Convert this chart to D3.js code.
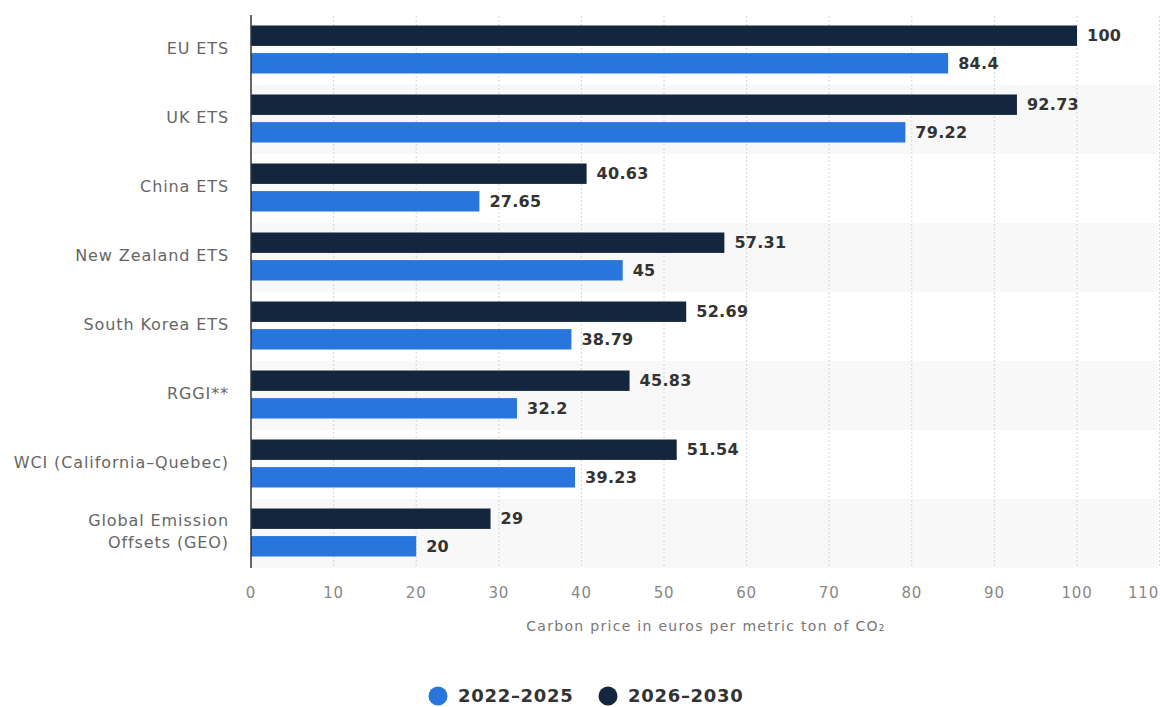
<!DOCTYPE html>
<html><head><meta charset="utf-8">
<script src="https://cdn.jsdelivr.net/npm/d3@7"></script>
<style>body{margin:0;background:#fff;}svg{display:block;font-family:"DejaVu Sans",sans-serif;}</style>
</head><body><svg id="c" width="1160" height="707"></svg>
<script>
const categories = ["EU ETS","UK ETS","China ETS","New Zealand ETS","South Korea ETS","RGGI**","WCI (California–Quebec)","Global Emission Offsets (GEO)"];
const series2026 = [100,92.73,40.63,57.31,52.69,45.83,51.54,29];
const series2022 = [84.4,79.22,27.65,45,38.79,32.2,39.23,20];
const seriesNames = ["2022–2025","2026–2030"];
const xTicks = [0,10,20,30,40,50,60,70,80,90,100,110];

(function(){
const colDark = "#13263d", colBlue = "#2876dd";
const svg = d3.select("#c");
const pLeft = 251, pRight = 1159.6, pTop = 16, pBottom = 568;
const x = d3.scaleLinear().domain([0,110]).range([pLeft,pRight]);
const y = d3.scaleBand().domain(categories).range([pTop,pBottom]);
const inner = d3.scaleBand().domain(["d","b"]).range([9.5, y.bandwidth()-11.5]).paddingInner(0.26);

svg.selectAll("rect.band").data(categories.filter((d,i)=>i%2===1)).join("rect")
  .attr("x",pLeft).attr("y",d=>y(d)).attr("width",1157-pLeft).attr("height",y.bandwidth()).attr("fill","#f8f8f8");

svg.selectAll("line.grid").data(xTicks.filter(d=>d>0)).join("line")
  .attr("x1",d=>x(d)).attr("x2",d=>x(d)).attr("y1",pTop).attr("y2",pBottom)
  .attr("stroke","#d6d6d6").attr("stroke-dasharray","2,2");

const g = svg.append("g");
categories.forEach((c,i)=>{
  [["d",series2026[i],colDark],["b",series2022[i],colBlue]].forEach(([k,v,col])=>{
    g.append("rect").attr("x",x(0)).attr("y",y(c)+inner(k)).attr("width",x(v)-x(0)).attr("height",inner.bandwidth()).attr("fill",col);
    g.append("text").attr("x",x(v)+10).attr("y",y(c)+inner(k)+inner.bandwidth()/2).attr("dy","0.36em")
      .attr("font-size",16).attr("font-weight",700).attr("letter-spacing",0.3).attr("fill","#333").text(v);
  });
});

svg.append("line").attr("x1",pLeft).attr("x2",pLeft).attr("y1",pTop-1).attr("y2",pBottom).attr("stroke","#333").attr("stroke-width",1.5);

categories.forEach((c,i)=>{
  const t = svg.append("text").attr("x",229).attr("text-anchor","end").attr("font-size",16).attr("letter-spacing",0.9).attr("fill","#666");
  const cy = y(c)+y.bandwidth()/2 - 2;
  if (c==="Global Emission Offsets (GEO)") {
    t.append("tspan").attr("x",229).attr("y",cy-11).attr("dy","0.36em").text("Global Emission");
    t.append("tspan").attr("x",229).attr("y",cy+11).attr("dy","0.36em").text("Offsets (GEO)");
  } else {
    t.attr("y",cy).attr("dy","0.36em").text(c);
  }
});

const lastTick = xTicks[xTicks.length-1];
svg.selectAll("text.tick").data(xTicks).join("text")
  .attr("x",d=>d===lastTick ? 1159 : x(d)).attr("y",593).attr("dy","0.36em")
  .attr("text-anchor",d=>d===lastTick ? "end" : "middle")
  .attr("font-size",15).attr("letter-spacing",0.8).attr("fill","#888").text(d=>d);

svg.append("text").attr("x",706).attr("y",626).attr("dy","0.36em").attr("text-anchor","middle")
  .attr("font-size",14).attr("fill","#777").attr("letter-spacing","1.3").text("Carbon price in euros per metric ton of CO₂");

const leg = [[438,colBlue,seriesNames[0]],[608,colDark,seriesNames[1]]];
leg.forEach(([lx,col,name])=>{
  svg.append("circle").attr("cx",lx).attr("cy",696).attr("r",9.5).attr("fill",col);
  svg.append("text").attr("x",lx+20).attr("y",696).attr("dy","0.36em").attr("font-size",18).attr("font-weight",700).attr("letter-spacing",0.7).attr("fill","#333").text(name);
});
})();
</script></body></html>
